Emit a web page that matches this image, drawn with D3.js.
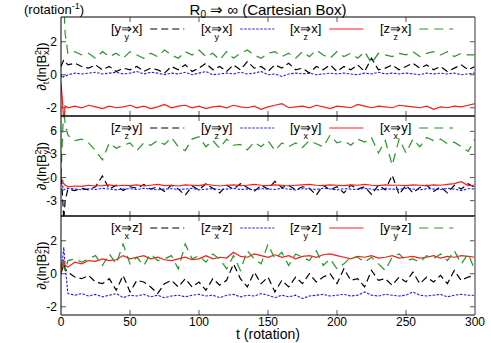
<!DOCTYPE html>
<html><head><meta charset="utf-8">
<script src="https://cdn.jsdelivr.net/npm/d3@7"></script>
<style>body{margin:0;background:#fff}svg{display:block;font-family:"Liberation Sans",Arial,sans-serif}</style>
</head><body><svg id="c" width="491" height="343"></svg>
<script>
const T = [0,1,2,3,5,10,15,20,25,30,35,40,45,50,55,60,65,70,75,80,85,90,95,100,105,110,115,120,125,130,135,140,145,150,155,160,165,170,175,180,185,190,195,200,205,210,215,220,225,230,235,240,245,250,255,260,265,270,275,280,285,290,295,300];
const xTicks = [0,50,100,150,200,250,300];

// panel x
const xBlack = [0.5,0.7,0.9,0.8, 0.6,0.7,0.5,0.4,0.6,0.3,0.5,0.2,0.4,0.3, 0.5,0.2,0.4,0.3,0.1,0.5,0.3,0.6,0.2,0.4, 0.7,0.3,0.5,0.2,0.6,0.3,0.8,0.4,0.5,0.2, 0.6,0.4,0.7,0.3,0.4,0.1,0.5,0.3,0.6,0.2, 0.5,0.3,0.6,0.2,1.0,0.3,0.4,0.6,0.3,0.5, 0.7,0.4,0.6,0.3,0.5,0.2,0.4,0.6,0.3,0.5];
const xBlue = [0.0,-0.2,-0.1,-0.1, 0.0,0.1,0.05,0.1,0.15,0.05,0.1,0.15,0.05,0.1, 0.2,0.05,0.15,0.1,0.0,0.1,0.05,0.15,0.0,0.1, 0.2,0.0,0.05,0.1,0.05,0.15,0.05,0.1,0.2,0.0, 0.05,-0.1,0.05,0.1,0.05,0.1,0.0,0.05,0.1,0.05, 0.1,0.05,0.0,0.1,0.05,0.15,0.05,0.1,0.05,0.1, 0.05,0.0,0.1,0.05,0.1,0.05,0.1,0.0,0.05,0.1];
const xRed = [-0.5,-1.5,-2.9,-1.9, -2.0,-1.9,-2.0,-1.85,-1.95,-2.05,-1.9,-2.0,-1.95,-1.85, -2.0,-1.9,-2.05,-1.95,-1.8,-2.0,-1.9,-1.85,-2.0,-1.9, -2.05,-1.95,-1.9,-2.0,-1.85,-1.95,-2.0,-1.9,-2.1,-1.95, -1.85,-1.75,-2.0,-1.95,-1.9,-2.0,-1.85,-1.95,-2.05,-1.9, -1.95,-2.0,-1.8,-1.9,-2.0,-1.9,-1.95,-2.0,-1.85,-1.9, -1.95,-2.0,-1.9,-2.1,-1.95,-2.0,-1.9,-1.95,-1.85,-1.75];
const xGreen = [6,8,4.5,2.5, 1.3,1.4,1.2,1.3,1.0,1.4,1.1,1.3,1.0,1.4, 1.2,1.0,1.3,1.1,1.5,1.2,1.0,1.4,1.2,1.5, 1.1,1.3,0.9,1.4,1.0,1.3,1.5,1.2,1.0,1.3, 1.4,1.1,1.3,1.0,1.4,1.1,1.5,1.2,1.0,1.4, 1.1,1.3,1.0,1.4,0.7,1.3,1.2,1.1,1.3,1.2, 1.4,1.1,1.3,1.4,1.2,1.4,1.1,1.3,1.2,1.2];

// panel y
const yBlack = [0,-2,-5.5,-3, -1.5,-1.7,-1.4,-1.6,-1.2,0.2,-1.5,-1.0,-1.7,-1.2, -1.4,-0.9,-1.5,-1.2,-1.8,-1.0,-1.5,-2.3,-1.1,-1.6, -0.8,-1.4,-2.0,-1.0,-1.5,-0.8,-1.3,-1.8,-1.0,-1.5, -0.5,-1.3,-1.0,-1.6,-1.2,-1.4,-2.3,-1.0,-1.6,-1.2, -2.0,-1.0,-1.5,-1.2,-2.2,-1.0,-1.6,0.3,-2.2,-1.0, -2.0,-1.3,-1.0,-1.8,-1.2,-2.0,-1.0,-1.5,-0.8,-1.3];
const yBlue = [0,-1.0,-1.6,-1.5, -1.4,-1.5,-1.6,-1.45,-1.55,-1.4,-1.5,-1.6,-1.5,-1.45, -1.55,-1.4,-1.5,-1.6,-1.5,-1.45,-1.55,-1.5,-1.4,-1.6, -1.5,-1.45,-1.55,-1.5,-1.4,-1.55,-1.5,-1.6,-1.45,-1.5, -1.55,-1.4,-1.5,-1.6,-1.45,-1.5,-1.55,-1.4,-1.5,-1.6, -1.45,-1.5,-1.55,-1.4,-1.5,-1.6,-1.45,-1.5,-1.55,-1.4, -1.5,-1.6,-1.45,-1.5,-1.55,-1.4,-1.5,-1.7,-1.45,-1.5];
const yRed = [0,-0.4,-0.8,-1.0, -1.2,-1.1,-1.15,-1.0,-1.1,-1.05,-0.95,-1.1,-1.0,-1.05, -0.95,-1.1,-1.0,-0.9,-1.05,-1.0,-1.1,-0.95,-1.0,-1.05, -0.9,-1.0,-1.1,-1.0,-0.95,-1.05,-1.0,-0.9,-1.0,-1.05, -0.95,-1.0,-1.1,-1.0,-0.95,-0.9,-1.0,-1.05,-0.95,-1.0, -1.05,-0.95,-1.0,-0.9,-1.0,-1.05,-0.95,-1.0,-1.0,-1.05, -0.95,-1.0,-1.05,-0.95,-1.0,-0.9,-0.8,-0.55,-1.05,-1.0];
const yGreen = [0,5,9,7, 5.5,4.8,5.0,4.5,3.5,2.3,4.5,3.8,4.2,4.5, 3.5,4.5,4.2,4.8,4.3,5.2,4.0,3.5,5.0,5.3, 4.0,4.8,3.8,5.0,4.2,4.3,3.6,4.6,4.0,4.8, 3.5,4.5,4.0,4.5,3.9,4.8,4.4,4.0,5.5,4.5, 4.8,4.2,5.0,4.6,5.2,3.2,4.8,1.6,5.0,3.2, 5.0,4.0,5.2,4.8,5.0,4.4,4.6,4.0,3.4,5.0];

// panel z
const zBlack = [0,0.3,0.6,0.3, 0.1,-0.2,-0.3,-0.1,-0.5,-0.6,-0.3,-1.0,-0.1,-1.1, -0.4,-0.5,-0.8,-1.2,-0.6,-0.4,-0.8,-0.3,-0.8,-0.5, -1.0,-0.3,-0.7,-0.4,0.6,-0.3,-0.8,0.1,-0.6,-0.2, -1.1,-0.4,-0.8,-0.2,-0.6,0.0,-0.5,-0.2,0.0,-0.6, 0.3,-0.4,-0.3,-0.8,0.2,-0.4,-0.3,-0.7,-0.2,-0.5, 0.1,-0.6,-0.2,-0.5,-0.1,-0.6,0.2,-0.4,-0.2,-0.1];
const zBlue = [0,0.8,1.6,0.5, -1.2,-1.3,-1.2,-1.35,-1.25,-1.4,-1.3,-1.2,-1.45,-1.3, -1.35,-1.25,-1.4,-1.3,-1.45,-1.35,-1.3,-1.4,-1.3,-1.25, -1.35,-1.3,-1.45,-1.3,-1.25,-1.4,-1.3,-1.35,-1.2,-1.3, -1.45,-1.3,-1.4,-1.3,-1.5,-1.35,-1.3,-1.25,-1.35,-1.3, -1.25,-1.35,-1.3,-1.1,-1.3,-1.35,-1.25,-1.3,-1.35,-1.3, -1.1,-1.3,-1.35,-1.3,-1.25,-1.4,-1.3,-1.25,-1.3,-1.3];
const zRed = [0,0.5,0.8,0.5, 0.4,0.7,0.6,0.8,0.75,0.9,0.8,0.85,1.1,0.9, 1.0,1.1,0.9,1.0,0.85,0.8,0.9,1.0,0.85,0.9, 1.1,0.9,1.0,0.95,1.3,1.05,1.0,1.2,1.1,1.0, 1.15,1.0,1.1,0.9,1.05,1.1,1.0,1.15,1.2,1.1, 1.0,0.9,1.05,1.0,1.1,0.95,1.0,1.1,0.95,1.0, 1.05,0.95,1.0,1.1,0.95,1.05,1.0,1.1,1.05,1.0];
const zGreen = [0.2,0.9,0.4,0.2, 0.8,0.9,0.7,0.9,1.1,0.5,1.2,0.6,1.8,0.6, 1.0,0.5,1.2,0.8,0.9,1.1,0.3,1.8,0.9,1.1, 0.7,1.2,0.9,0.3,1.1,0.2,1.4,0.9,0.6,1.8, 0.9,1.3,0.5,1.2,1.0,0.8,1.4,0.5,0.9,0.3, 0.6,1.0,1.0,0.7,1.0,0.6,0.2,1.0,1.2,0.8, 0.9,0.7,1.1,0.9,1.2,0.8,1.4,0.6,1.2,0.2];

// legend labels: [from, subscript, to]
const xLabels = [["y","y","x"],["x","y","x"],["x","z","x"],["z","z","x"]];
const yLabels = [["z","z","y"],["y","z","y"],["y","x","y"],["x","x","y"]];
const zLabels = [["x","x","z"],["z","x","z"],["z","y","z"],["y","y","z"]];

const xTickY = [-2,0,2];
const yTickY = [-3,0,3,6];
const zTickY = [-2,0,2];
const axisComp = ["x","y","z"];

const styles = [
  {color:"#000000", dash:"7,4", w:1.2},
  {color:"#1a1aff", dash:"2.5,1.5", w:1.1},
  {color:"#ff1a1a", dash:null, w:1.2},
  {color:"#229922", dash:"9,6", w:1.2}
];

const panels = [
  {series:[xBlack,xBlue,xRed,xGreen], labels:xLabels, domain:[-2.5,3.5], ticks:xTickY, comp:axisComp[0], top:17, bottom:116},
  {series:[yBlack,yBlue,yRed,yGreen], labels:yLabels, domain:[-5,8], ticks:yTickY, comp:axisComp[1], top:116, bottom:216},
  {series:[zBlack,zBlue,zRed,zGreen], labels:zLabels, domain:[-2.5,3.5], ticks:zTickY, comp:axisComp[2], top:216, bottom:315}
];

const svg = d3.select("#c");
const L = 61, R = 475;
const x = d3.scaleLinear().domain([0,300]).range([L,R]);

panels.forEach((p,pi)=>{
  const y = d3.scaleLinear().domain(p.domain).range([p.bottom,p.top]);
  const g = svg.append("g");
  const cid = "clip"+pi;
  svg.append("clipPath").attr("id",cid).append("rect")
    .attr("x",L).attr("y",p.top).attr("width",R-L).attr("height",p.bottom-p.top);
  // ticks inward
  const tk = g.append("g").attr("stroke","#555").attr("stroke-width",1);
  xTicks.slice(1,-1).forEach(v=>{
    tk.append("line").attr("x1",x(v)).attr("x2",x(v)).attr("y1",p.bottom).attr("y2",p.bottom-5);
    tk.append("line").attr("x1",x(v)).attr("x2",x(v)).attr("y1",p.top).attr("y2",p.top+5);
  });
  p.ticks.forEach(v=>{
    tk.append("line").attr("x1",L).attr("x2",L+5).attr("y1",y(v)).attr("y2",y(v));
    tk.append("line").attr("x1",R).attr("x2",R-5).attr("y1",y(v)).attr("y2",y(v));
    g.append("text").attr("x",L-4).attr("y",y(v)+4).attr("text-anchor","end")
      .attr("font-size",12).attr("fill","#000").text(v<0?"-"+Math.abs(v):String(v));
  });
  // lines
  const lg = g.append("g").attr("clip-path",`url(#${cid})`);
  p.series.forEach((s,si)=>{
    const st = styles[si];
    const line = d3.line().x((d,i)=>x(T[i])).y(d=>y(d));
    lg.append("path").datum(s).attr("d",line).attr("fill","none")
      .attr("stroke",st.color).attr("stroke-width",st.w)
      .attr("stroke-dasharray",st.dash);
  });
  // legend
  const legY = p.top + 12;
  const starts = [111,201,290,380];
  p.labels.forEach((lab,li)=>{
    const st = styles[li];
    const t = g.append("text").attr("x",starts[li]).attr("y",legY+4).attr("font-size",13).attr("fill","#000");
    t.append("tspan").text("["+lab[0]);
    const ar = t.append("tspan").text("\u21D2");
    const sb = t.append("tspan").attr("font-size",9).text(lab[1]);
    const tail = t.append("tspan").text(lab[2]+"]");
    const wa = ar.node().getComputedTextLength();
    const ws = sb.node().getComputedTextLength();
    sb.attr("dx",-(wa/2+ws/2)).attr("dy",7);
    tail.attr("dx",wa/2-ws/2).attr("dy",-7);
    const tw = t.node().getBBox().width;
    const lx = starts[li]+tw+8;
    g.append("line").attr("x1",lx).attr("x2",lx+34).attr("y1",legY).attr("y2",legY)
      .attr("stroke",st.color).attr("stroke-width",st.w).attr("stroke-dasharray",st.dash);
  });
  // frame
  g.append("line").attr("x1",L).attr("x2",R).attr("y1",p.top).attr("y2",p.top).attr("stroke","#000");
  g.append("line").attr("x1",L).attr("x2",R).attr("y1",p.bottom).attr("y2",p.bottom).attr("stroke","#000");
  g.append("line").attr("x1",L).attr("x2",L).attr("y1",p.top).attr("y2",p.bottom).attr("stroke","#000");
  g.append("line").attr("x1",R).attr("x2",R).attr("y1",p.top).attr("y2",p.bottom).attr("stroke","#777").attr("stroke-width",1.5);
  // y label
  const cy = (p.top+p.bottom)/2;
  const yl = svg.append("text").attr("transform",`translate(46,${cy}) rotate(-90)`)
    .attr("text-anchor","middle").attr("font-size",13);
  yl.append("tspan").text("\u2202");
  yl.append("tspan").attr("font-size",9).attr("dy",3).text("t");
  yl.append("tspan").attr("dy",-3).text("(ln[B");
  yl.append("tspan").attr("font-size",9).attr("dy",-5).text("2");
  yl.append("tspan").attr("font-size",9).attr("dx",-5).attr("dy",8).text(p.comp);
  yl.append("tspan").attr("dy",-3).text("])");
});

// x tick labels
xTicks.forEach(v=>{
  svg.append("text").attr("x",x(v)).attr("y",326).attr("text-anchor","middle").attr("font-size",12).text(v);
});
svg.append("text").attr("x",268).attr("y",339).attr("text-anchor","middle").attr("font-size",14).text("t (rotation)");

// title
const ti = svg.append("text").attr("x",268).attr("y",15).attr("text-anchor","middle").attr("font-size",15);
ti.append("tspan").text("R");
ti.append("tspan").attr("font-size",10).attr("dy",3).text("0");
ti.append("tspan").attr("dy",-3).text(" \u21D2 \u221E (Cartesian Box)");

const ru = svg.append("text").attr("x",24).attr("y",14).attr("font-size",13);
ru.append("tspan").text("(rotation");
ru.append("tspan").attr("font-size",9).attr("dy",-5).text("-1");
ru.append("tspan").attr("dy",5).text(")");
</script></body></html>
